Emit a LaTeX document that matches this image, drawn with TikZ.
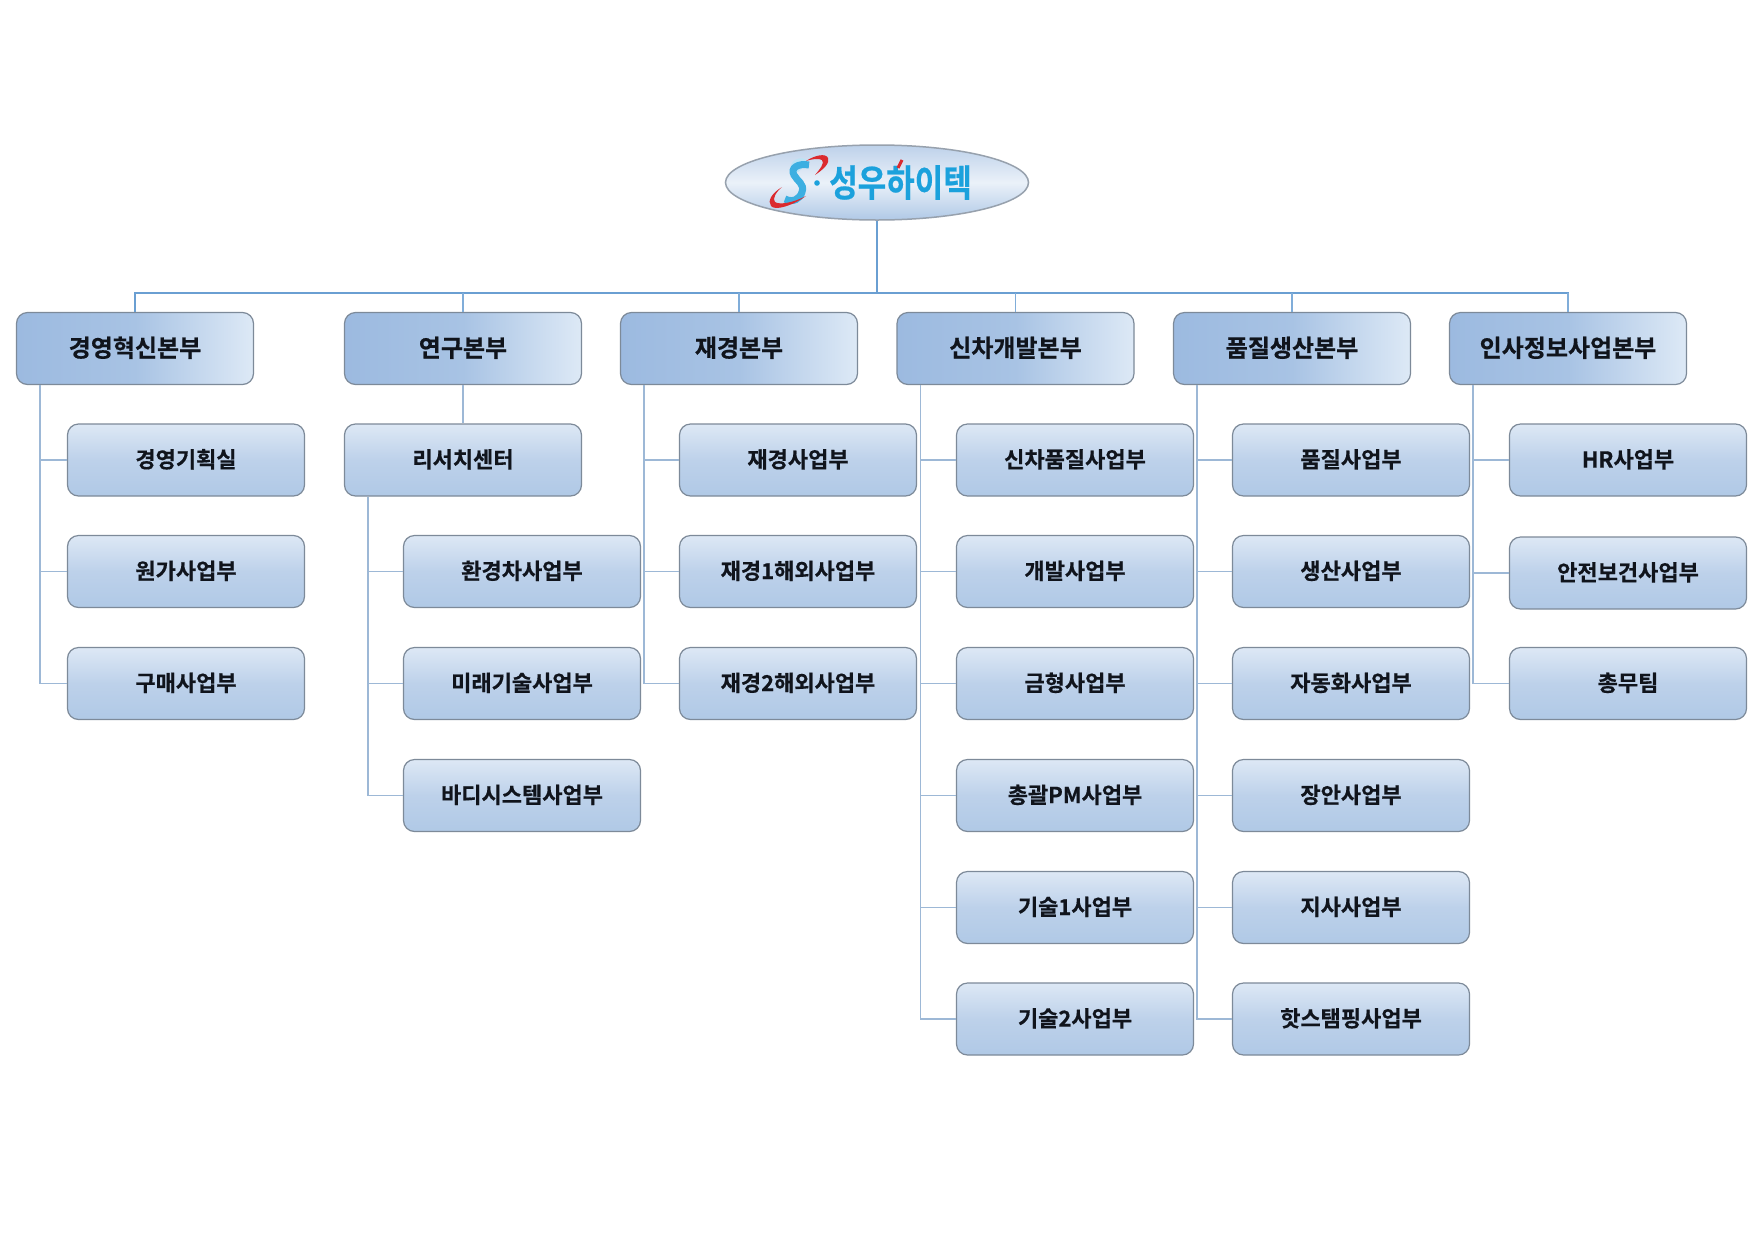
\documentclass[tikz,border=0pt]{standalone}
\usepackage{fontspec}
\usetikzlibrary{shapes.geometric,calc}
\newfontfamily\krbold{Noto Sans CJK KR}[BoldFont=* Bold,BoldFeatures={FakeBold=0.5}]
\setmainfont{Noto Sans CJK KR}
\definecolor{edgeC}{HTML}{7D8A99}
\definecolor{busC}{HTML}{6A9FD2}
\definecolor{branchC}{HTML}{9DB8D6}
\definecolor{headL}{HTML}{9CBAE0}
\definecolor{headM}{HTML}{A8C3E4}
\definecolor{headR}{HTML}{DDE9F6}
\definecolor{kidT}{HTML}{DDE8F5}
\definecolor{kidM}{HTML}{BDD1EA}
\definecolor{kidB}{HTML}{B0C9E6}
\definecolor{txtC}{HTML}{10141C}
\definecolor{logoC}{HTML}{1BA1DC}
\definecolor{logoR}{HTML}{DB2A2E}
\tikzset{
  x=1pt,y=-1pt,
  headbox/.style={rounded corners=11pt,draw=edgeC,line width=1.2pt,minimum width=237pt,minimum height=72pt,inner sep=0pt,
    left color=headL,right color=headR,middle color=headM,text=txtC,text height=18.6pt,text depth=2pt,font=\krbold\bfseries\fontsize{24pt}{27pt}\selectfont},
  kidbox/.style={rounded corners=11pt,draw=edgeC,line width=1.2pt,minimum width=237pt,minimum height=72pt,inner sep=0pt,
    top color=kidT,bottom color=kidB,middle color=kidM,text=txtC,text height=17.2pt,text depth=2pt,font=\krbold\bfseries\fontsize{22pt}{25pt}\selectfont},
  rootshape/.style={ellipse,draw=edgeC!80,line width=1.5pt,minimum width=303pt,minimum height=75pt,inner sep=0pt,
    top color=kidM,bottom color=kidB,middle color=kidT!60!white},
  bus/.style={draw=busC,line width=1.6pt},
  branch/.style={draw=branchC,line width=1.5pt},
  drop/.style={draw=busC!85,line width=1.5pt},
}
\begin{document}
\begin{tikzpicture}
\useasboundingbox (0,0) rectangle (1754,1240);
\fill[white] (0,0) rectangle (1754,1240);
\node[rootshape] (root) at (877,182.5) {};
\coordinate (busm) at (877,293);
% heads
\node[headbox] (h1) at (135,348.5) {경영혁신본부};
\node[headbox] (h2) at (463,348.5) {연구본부};
\node[headbox] (h3) at (739,348.5) {재경본부};
\node[headbox] (h4) at (1015.5,348.5) {신차개발본부};
\node[headbox] (h5) at (1292,348.5) {품질생산본부};
\node[headbox] (h6) at (1568,348.5) {인사정보사업본부};
% column 1
\node[kidbox] (a1) at (186,460) {경영기획실};
\node[kidbox] (a2) at (186,571.5) {원가사업부};
\node[kidbox] (a3) at (186,683.5) {구매사업부};
% column 2
\node[kidbox] (rc) at (463,460) {리서치센터};
\node[kidbox] (b1) at (522,571.5) {환경차사업부};
\node[kidbox] (b2) at (522,683.5) {미래기술사업부};
\node[kidbox] (b3) at (522,795.5) {바디시스템사업부};
% column 3
\node[kidbox] (c1) at (798,460) {재경사업부};
\node[kidbox] (c2) at (798,571.5) {재경1해외사업부};
\node[kidbox] (c3) at (798,683.5) {재경2해외사업부};
% column 4
\node[kidbox] (d1) at (1075,460) {신차품질사업부};
\node[kidbox] (d2) at (1075,571.5) {개발사업부};
\node[kidbox] (d3) at (1075,683.5) {금형사업부};
\node[kidbox] (d4) at (1075,795.5) {총괄PM사업부};
\node[kidbox] (d5) at (1075,907.5) {기술1사업부};
\node[kidbox] (d6) at (1075,1019) {기술2사업부};
% column 5
\node[kidbox] (e1) at (1351,460) {품질사업부};
\node[kidbox] (e2) at (1351,571.5) {생산사업부};
\node[kidbox] (e3) at (1351,683.5) {자동화사업부};
\node[kidbox] (e4) at (1351,795.5) {장안사업부};
\node[kidbox] (e5) at (1351,907.5) {지사사업부};
\node[kidbox] (e6) at (1351,1019) {핫스탬핑사업부};
% column 6
\node[kidbox] (f1) at (1628,460) {HR사업부};
\node[kidbox] (f2) at (1628,573) {안전보건사업부};
\node[kidbox] (f3) at (1628,683.5) {총무팀};
% bus connectors
\draw[bus,line width=2pt] (root.south) -- (busm);
\draw[bus] (h1.north) |- (busm);
\draw[bus] (h6.north) |- (busm);
\draw[drop] (h2.north) -- (h2.north |- busm);
\draw[drop] (h3.north) -- (h3.north |- busm);
\draw[drop] (h4.north) -- (h4.north |- busm);
\draw[drop] (h5.north) -- (h5.north |- busm);
\draw[drop] (h6.north) -- (h6.north |- busm);
% branches
\draw[branch] (h2.south) -- (rc.north);
\foreach \p/\ks in {h1/{a1,a2,a3},rc/{b1,b2,b3},h3/{c1,c2,c3},h4/{d1,d2,d3,d4,d5,d6},h5/{e1,e2,e3,e4,e5,e6},h6/{f1,f2,f3}}{
  \foreach \k in \ks {
    \draw[branch] ([xshift=24pt]\p.south west) |- (\k.west);
  }
}
% logo
\fill[logoC!30!white] (795,160) .. controls (800,157) and (806,158) .. (808,162) -- (798,172) -- (790,170) .. controls (790,166) and (792,162) .. (795,160) -- cycle;
\draw[logoC!85!white,line width=7pt] (809,165) .. controls (798,163) and (790,168) .. (794,175) .. controls (797,181) and (805,184) .. (802,192) .. controls (800,199) and (793,203) .. (785,199);
\fill[logoR] (806,161) .. controls (815,155) and (826,153) .. (828,158) .. controls (830,163) and (824,169) .. (815,175) .. controls (820,169) and (825,163) .. (822,160) .. controls (819,158) and (812,159) .. (806,161) -- cycle;
\fill[logoR] (782,187) .. controls (772,193) and (767,201) .. (771,206) .. controls (775,211) and (792,206) .. (806,196) .. controls (793,203) and (779,205) .. (775,202) .. controls (772,199) and (776,192) .. (782,187) -- cycle;
\fill[logoC] (817,183) circle (2.8);
\node[font=\krbold\bfseries\fontsize{31pt}{34pt}\selectfont,text=logoC,inner sep=0pt] (logotxt) at (900.5,182.5) {\scalebox{1}[1.2]{성우하이텍}};
\draw[logoR,line width=3pt] (898,168) -- (902,160);
\end{tikzpicture}
\end{document}
